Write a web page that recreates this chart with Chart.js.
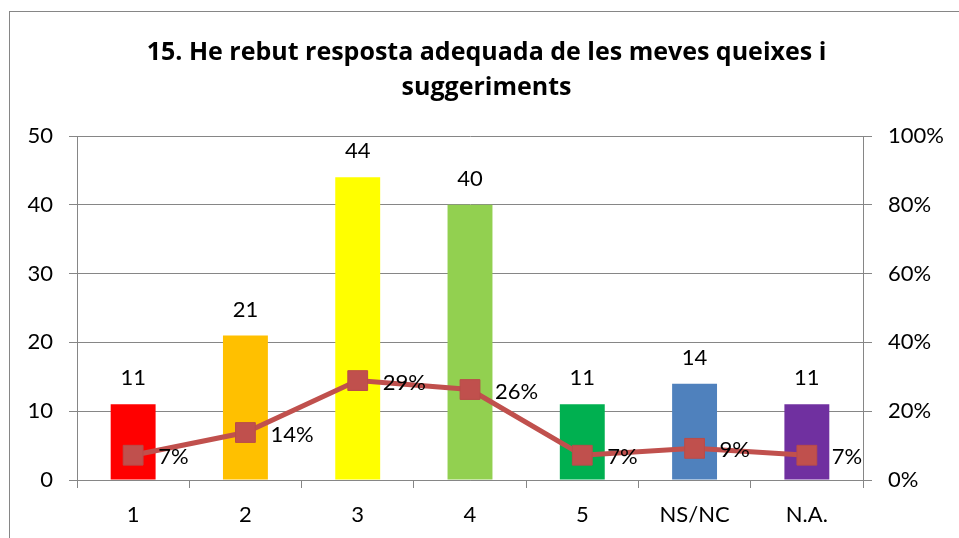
<!DOCTYPE html>
<html>
<head>
<meta charset="utf-8">
<script src="https://cdn.jsdelivr.net/npm/chart.js@4.4.1/dist/chart.umd.min.js"></script>
<style>
  html, body { margin: 0; padding: 0; background: #fff; overflow: hidden; }
  #box { position: absolute; left: 9px; top: 11px; width: 970px; height: 540px; border: 1px solid #868686; }
</style>
</head>
<body>
<div id="box"><canvas id="Chart" width="970" height="540"></canvas></div>
<script>
// values
var categories = ['1', '2', '3', '4', '5', 'NS/NC', 'N.A.'];
var counts = [11, 21, 44, 40, 11, 14, 11];
var shares = [0.072, 0.138, 0.289, 0.263, 0.072, 0.092, 0.072];
var shareLabels = ['7%', '14%', '29%', '26%', '7%', '9%', '7%'];
var barColors = ['#FF0000', '#FFC000', '#FFFF00', '#92D050', '#00B050', '#4F81BD', '#7030A0'];
var titleLines = ['15. He rebut resposta adequada de les meves queixes i', 'suggeriments'];

var FONT = 'Lato, Calibri, Carlito, sans-serif';
var TITLE_FONT = '"Open Sans", Calibri, sans-serif';
var GRID = '#868686';

var labelPlugin = {
  id: 'valueLabels',
  afterDatasetsDraw: function(chart) {
    var ctx = chart.ctx;
    ctx.save();
    ctx.font = '22px ' + FONT;
    ctx.fillStyle = '#000';
    ctx.textBaseline = 'middle';
    var bars = chart.getDatasetMeta(0).data;
    ctx.textAlign = 'center';
    bars.forEach(function(b, i) {
      ctx.fillText(String(counts[i]), b.x, b.y - 26);
    });
    var pts = chart.getDatasetMeta(1).data;
    ctx.textAlign = 'left';
    pts.forEach(function(p, i) {
      ctx.fillText(shareLabels[i], p.x + 25, p.y + 2);
    });
    ctx.restore();
  }
};

const ctx = document.getElementById('Chart').getContext('2d');
const chart = new Chart(ctx, {
  type: 'bar',
  data: {
    labels: categories,
    datasets: [{
      type: 'bar',
      data: counts,
      backgroundColor: barColors,
      barPercentage: 0.4,
      categoryPercentage: 1,
      yAxisID: 'y',
      order: 2
    }, {
      type: 'line',
      data: shares,
      borderColor: '#C0504D',
      backgroundColor: '#C0504D',
      borderWidth: 5,
      pointStyle: 'rect',
      pointRadius: 14,
      pointBorderWidth: 1,
      pointBorderColor: '#B94C49',
      tension: 0,
      yAxisID: 'y1',
      order: 1
    }]
  },
  options: {
    responsive: false,
    animation: false,
    layout: { padding: { left: 0, right: 17, top: 0, bottom: 12 } },
    plugins: {
      legend: { display: false },
      tooltip: { enabled: false },
      title: {
        display: true,
        text: titleLines,
        color: '#000',
        font: { family: TITLE_FONT, size: 25, weight: 'bold', lineHeight: 1.4 },
        padding: { top: 23, bottom: 31 }
      }
    },
    scales: {
      x: {
        offset: true,
        grid: { display: true, drawOnChartArea: false, drawTicks: true, tickLength: 8, color: GRID, offset: true },
        border: { display: true, color: GRID, width: 1 },
        ticks: { color: '#000', font: { family: FONT, size: 22 }, padding: 14 },
        afterFit: function(s) { s.height = 60; }
      },
      y: {
        position: 'left',
        min: 0, max: 50,
        ticks: { stepSize: 10, color: '#000', font: { family: FONT, size: 22 }, padding: 16 },
        grid: { color: GRID, tickLength: 8 },
        border: { display: true, color: GRID },
        afterFit: function(s) { s.width = 67; }
      },
      y1: {
        position: 'right',
        min: 0, max: 1,
        ticks: {
          stepSize: 0.2, color: '#000', font: { family: FONT, size: 22 }, padding: 16,
          callback: function(v) { return Math.round(v * 100) + '%'; }
        },
        grid: { drawOnChartArea: false, color: GRID, tickLength: 9 },
        border: { display: true, color: GRID },
        afterFit: function(s) { s.width = 100; }
      }
    }
  },
  plugins: [labelPlugin]
});
</script>
</body>
</html>
